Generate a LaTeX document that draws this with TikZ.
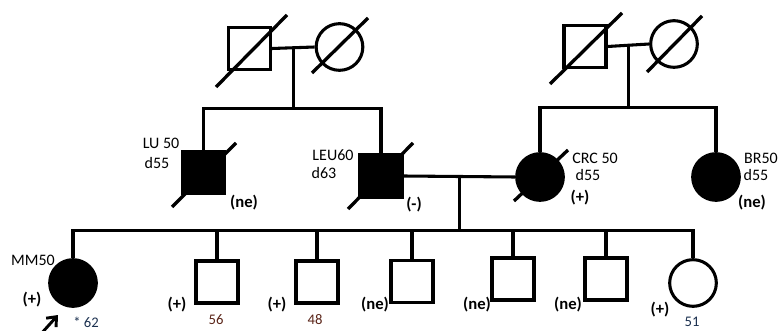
\documentclass[tikz,border=0pt]{standalone}
\usepackage{fontspec}
\setmainfont{Carlito}
\usetikzlibrary{arrows.meta,calc}
\definecolor{numred}{HTML}{5A2418}
\definecolor{numblue}{HTML}{1C3150}
\begin{document}
\begin{tikzpicture}[x=0.75pt,y=-0.75pt,
  line width=2.3pt,
  male/.style={draw,rectangle,minimum size=31.5pt,inner sep=0pt,line width=2.3pt},
  female/.style={draw,circle,minimum size=35pt,inner sep=0pt,line width=2.3pt},
  aff/.style={fill=black},
  slash/.style={line width=2.5pt},
  lbl/.style={inner sep=0pt,font=\fontsize{12}{14}\selectfont},
  res/.style={inner sep=0pt,font=\fontsize{12.5}{14}\selectfont\bfseries},
  age/.style={inner sep=0pt,font=\fontsize{11}{13}\selectfont}]
\useasboundingbox (0,0) rectangle (780,331);

% generation I
\node[male]   (g1m) at (249.5,48.5) {};
\node[female] (g1f) at (339.5,47) {};
\node[male]   (g2m) at (585,46.5) {};
\node[female] (g2f) at (674,44) {};
\draw[slash] (216,87) -- (287,15);
\draw[slash] (312,73) -- (368,18);
\draw[slash] (550,84) -- (622,13);
\draw[slash] (647,72) -- (702,16);

% generation II
\node[male,aff]   (lu)  at (203.5,172.5) {};
\node[male,aff]   (leu) at (381,176) {};
\node[female,aff] (crc) at (540,177) {};
\node[female,aff] (br)  at (716,177) {};
\draw[slash] (172,207) -- (236,143);
\draw[slash] (348,209) -- (413,143);
\draw[slash] (514,201) -- (568,150);

% generation III
\node[female,aff] (mm) at (73,283) {};
\node[male]   (c2) at (217,282) {};
\node[male]   (c3) at (317,282) {};
\node[male]   (c4) at (412,281.5) {};
\node[male]   (c5) at (513,279) {};
\node[male]   (c6) at (606,279) {};
\node[female] (c7) at (693,283) {};

% couple 1
\draw (g1m.east) -- (g1f.west);
\coordinate (m1) at ($(g1m.east)!0.5!(g1f.west)$);
\coordinate (s1) at ($(m1)+(0,61)$);
\draw (m1) -- (s1);
\draw (lu.north) |- (s1) -| (leu.north);

% couple 2
\draw (g2m.east) -- (g2f.west);
\coordinate (m2) at ($(g2m.east)!0.5!(g2f.west)$);
\coordinate (s2) at ($(m2)+(0,62)$);
\draw (m2) -- (s2);
\draw (crc.north) |- (s2) -| (br.north);

% couple 3
\draw (leu.east) -- (crc.west);
\coordinate (m3) at ($(leu.east)!0.5!(crc.west)$);
\coordinate (s3) at ($(m3)+(0,54)$);
\draw (m3) -- (s3);
\draw (mm.north) |- (s3) -| (c7.north);
\foreach \c in {c2,c3,c4,c5,c6} \draw (\c.north) -- (\c.north |- s3);

% proband arrow
\coordinate (pa) at (40,335);
\coordinate (pb) at (58,315);
\draw[line width=2.2pt,-{Straight Barb[length=6pt,width=10pt,line width=2.2pt]}] (pa) -- (pb);

% labels
\node[lbl] (tlu)  at (161,143) {LU 50};
\node[lbl] (tlud) at (157,163) {d55};
\node[res] (tlur) at (244,203) {(ne)};
\node[lbl] (tleu) at (333,155) {LEU60};
\node[lbl] (tleud) at (324,173) {d63};
\node[res] (tleur) at (414,205) {(-)};
\node[lbl] (tcrc) at (595,158) {CRC 50};
\node[lbl] (tcrcd) at (588,175) {d55};
\node[res] (tcrcr) at (580,198) {(+)};
\node[lbl] (tbr)  at (761,158) {BR50};
\node[lbl] (tbrd) at (756,175) {d55};
\node[res] (tbrr) at (752,203) {(ne)};
\node[lbl] (tmm)  at (33,260) {MM50};
\node[res] (tmmr) at (32,300) {(+)};
\node[age,text=numblue] (tmma) at (86,322) {* 62};
\node[res] (tc2r) at (177,305) {(+)};
\node[age,text=numred] (tc2a) at (216,320) {56};
\node[res] (tc3r) at (277,305) {(+)};
\node[age,text=numred] (tc3a) at (315,320) {48};
\node[res] (tc4r) at (375,305) {(ne)};
\node[res] (tc5r) at (477,305) {(ne)};
\node[res] (tc6r) at (568,305) {(ne)};
\node[res] (tc7r) at (660,310) {(+)};
\node[age,text=numblue] (tc7a) at (692,322) {51};
\end{tikzpicture}
\end{document}
